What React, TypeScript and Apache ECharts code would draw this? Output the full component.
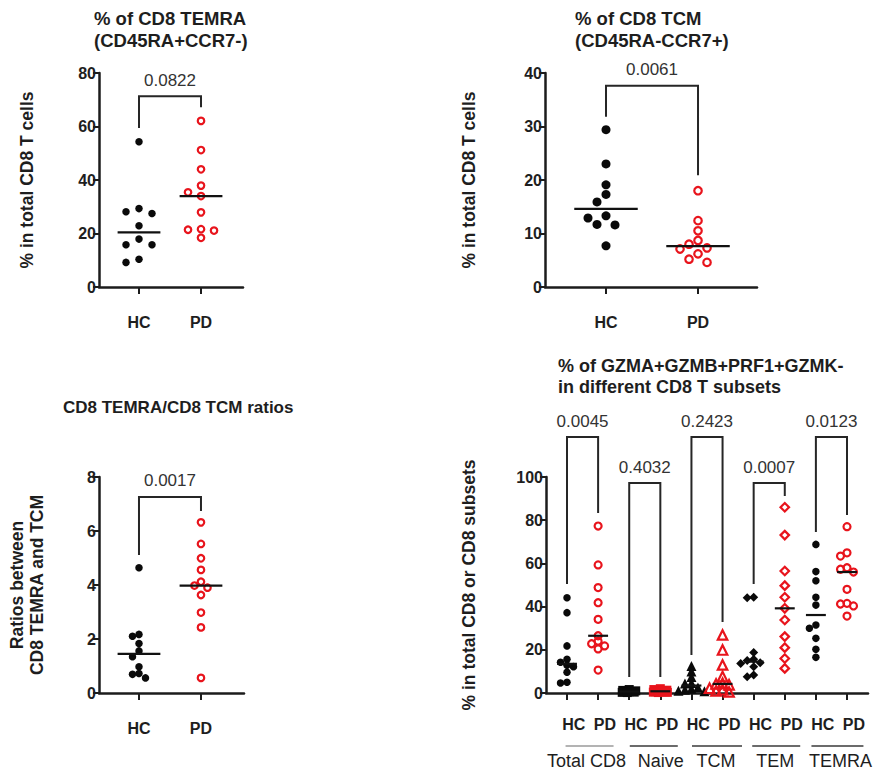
import React, { useEffect, useRef } from 'react';
import * as echarts from 'echarts';

// ---------------- data ----------------
const groupLabels = ['HC', 'PD'];

// Panel 1: % of CD8 TEMRA
const temraHC = [54.3, 29.3, 28.1, 27.5, 22.9, 17.9, 15.8, 15.8, 10.4, 9.2];
const temraPD = [62.1, 51.2, 44.0, 37.9, 35.4, 34.0, 27.9, 21.6, 21.4, 21.1, 18.4];
const temraP = ['0.0822'];

// Panel 2: % of CD8 TCM
const tcmHC = [29.4, 23.0, 19.1, 17.3, 15.9, 13.3, 12.9, 11.7, 11.6, 7.7];
const tcmPD = [18.0, 12.4, 10.5, 8.7, 8.0, 7.3, 7.1, 6.2, 5.2, 4.6];
const tcmP = ['0.0061'];

// Panel 3: TEMRA / TCM ratios
const ratioHC = [4.64, 2.17, 2.1, 1.83, 1.56, 1.34, 0.97, 0.72, 0.69, 0.56];
const ratioPD = [6.32, 5.52, 4.99, 4.56, 4.12, 3.98, 3.9, 3.63, 2.98, 2.43, 0.56];
const ratioP = ['0.0017'];

// Panel 4: GZMA+GZMB+PRF1+GZMK- in subsets
const subsetNames = ['Total CD8', 'Naive', 'TCM', 'TEM', 'TEMRA'];
const totalHC = [44.1, 37.2, 21.8, 15.6, 14.2, 12.8, 12.2, 9.6, 5.0, 4.6];
const totalPD = [77.3, 59.3, 48.8, 41.8, 34.1, 26.5, 24.0, 22.8, 21.8, 20.4, 10.6];
const naiveHC = [1.6, 1.2, 1.0, 0.9, 0.7, 0.6, 0.5, 0.4, 0.3, 0.2];
const naivePD = [2.0, 1.6, 1.3, 1.1, 0.9, 0.8, 0.6, 0.5, 0.4, 0.3, 0.2];
const tcmSubHC = [12.5, 9.9, 7.4, 4.6, 4.4, 2.5, 2.0, 1.5, 1.0, 0.8];
const tcmSubPD = [26.9, 19.9, 13.0, 7.6, 4.5, 4.2, 3.8, 2.2, 1.5, 1.0, 0.5];
const temHC = [44.3, 44.1, 18.7, 15.6, 15.0, 14.0, 13.7, 12.2, 8.3, 7.5];
const temPD = [86.0, 73.1, 56.5, 49.7, 44.3, 39.2, 33.8, 26.1, 21.0, 16.0, 11.4];
const temraSubHC = [68.8, 56.2, 52.0, 44.3, 40.7, 31.5, 30.0, 25.3, 20.2, 16.5];
const temraSubPD = [77.0, 64.9, 63.4, 58.0, 57.3, 56.0, 48.0, 41.5, 41.2, 40.3, 35.6];
const subsetP = ['0.0045', '0.4032', '0.2423', '0.0007', '0.0123'];

// bracket levels (annotation heights, data units): [top, HC leg end, PD leg end]
const bracketLevels1 = [[71.3, 59.4, 67.2]];
const bracketLevels2 = [[37.6, 31.8, 20.9]];
const bracketLevels3 = [[7.26, 5.11, 6.74]];
const bracketLevels4 = [
  [118.5, 50.5, 83.3],
  [97.2, 7.4, 7.4],
  [118.5, 17.6, 32.9],
  [97.2, 50.5, 91.2],
  [118.5, 74.5, 82.4],
];

// ---------------- layout / style ----------------
const FONT = 'Arial, "Liberation Sans", Helvetica, sans-serif';
const RED = '#e8141c';
const BLACK = '#0a0a0a';
const AXIS = '#1c1c1c';
const TXT = '#1e1e1e';

const grids = [
  { left: 99, top: 73, width: 144, height: 214 },
  { left: 545, top: 73, width: 212, height: 214 },
  { left: 99, top: 477, width: 145, height: 216 },
  { left: 546, top: 477, width: 322, height: 216 },
];
const xRanges = [
  [0.355, 2.677],
  [0.337, 2.641],
  [0.355, 2.694],
  [0.325, 10.675],
];
const yMax = [80, 40, 8, 100];
const yStep = [20, 10, 2, 20];
const yNames = [
  '% in total CD8 T cells',
  '% in total CD8 T cells',
  'Ratios between\nCD8 TEMRA and TCM',
  '% in total CD8 or CD8 subsets',
];
const nameGaps = [62, 66, 52, 67];
// subset caption placement under panel 4 (px offsets from pair centre)
const groupLabelShift = [4, 16, 9, 6, 9];
const groupLineShift = [7, 9, 10, 7, 6];
const groupLineHalf = [24, 24, 25, 24, 26];
const groupLineColors = ['#9a9a9a', '#3a3a3a', '#3a3a3a', '#3a3a3a', '#3a3a3a'];

function median(a: number[]) {
  const s = [...a].sort((x, y) => x - y);
  const n = s.length;
  return n % 2 ? s[(n - 1) / 2] : (s[n / 2 - 1] + s[n / 2]) / 2;
}

// simple beeswarm in pixel space
function swarm(values: number[], pxPerY: number, step: number, minDist: number, maxOff: number) {
  const order = values.map((_, i) => i).sort((a, b) => values[b] - values[a]);
  const placed: { x: number; y: number }[] = [];
  const offs = new Array(values.length).fill(0);
  for (const i of order) {
    const y = values[i] * pxPerY;
    const cands = [0];
    for (let k = 1; k * step <= maxOff + 0.01; k++) cands.push(-k * step, k * step);
    let chosen: number | null = null;
    for (const c of cands) {
      if (placed.every((p) => Math.hypot(p.x - c, p.y - y) >= minDist)) {
        chosen = c;
        break;
      }
    }
    if (chosen === null) {
      let best = 0;
      let bestD = -1;
      for (let c = -maxOff; c <= maxOff + 0.01; c += 1) {
        const d = Math.min(...placed.map((p) => Math.hypot(p.x - c, p.y - y)));
        if (d > bestD + 1e-6) {
          bestD = d;
          best = c;
        }
      }
      chosen = best;
    }
    placed.push({ x: chosen, y });
    offs[i] = chosen;
  }
  return offs;
}

function buildOption() {
  const pxX = grids.map((g, i) => g.width / (xRanges[i][1] - xRanges[i][0]));
  const pxY = grids.map((g, i) => g.height / yMax[i]);

  const series: any[] = [];

  const addGroup = (
    panel: number,
    center: number,
    values: number[],
    symbol: string,
    size: number,
    filled: boolean,
    color: string,
    sw: [number, number, number]
  ) => {
    const offs = swarm(values, pxY[panel], sw[0], sw[1], sw[2]);
    series.push({
      type: 'scatter',
      xAxisIndex: panel,
      yAxisIndex: panel,
      silent: true,
      z: 3,
      symbol,
      symbolSize: size,
      itemStyle: filled
        ? { color, borderWidth: 0, opacity: 1 }
        : { color: 'rgba(0,0,0,0)', borderColor: color, borderWidth: 2.2, opacity: 1 },
      data: values.map((v, i) => [center + offs[i] / pxX[panel], v]),
    });
  };

  const medianSeries = (panel: number, rows: number[][], hw: number) => ({
    type: 'custom',
    xAxisIndex: panel,
    yAxisIndex: panel,
    coordinateSystem: 'cartesian2d',
    silent: true,
    clip: false,
    z: 5,
    data: rows,
    renderItem: (params: any, api: any) => {
      const x = api.value(0);
      const m = api.value(1);
      const a = api.coord([x - hw, m]);
      const b = api.coord([x + hw, m]);
      return {
        type: 'line',
        shape: { x1: a[0], y1: a[1], x2: b[0], y2: b[1] },
        style: { stroke: '#111', lineWidth: 2.2 },
      };
    },
  });

  const bracketSeries = (panel: number, levels: number[][], texts: string[]) => ({
    type: 'custom',
    xAxisIndex: panel,
    yAxisIndex: panel,
    coordinateSystem: 'cartesian2d',
    silent: true,
    clip: false,
    z: 4,
    data: levels.map((l, i) => [2 * i + 1, 2 * i + 2, l[0], l[1], l[2]]),
    renderItem: (params: any, api: any) => {
      const x1 = api.value(0);
      const x2 = api.value(1);
      const top = api.value(2);
      const a = api.coord([x1, api.value(3)]);
      const b = api.coord([x1, top]);
      const c = api.coord([x2, top]);
      const d = api.coord([x2, api.value(4)]);
      return {
        type: 'group',
        children: [
          {
            type: 'polyline',
            shape: { points: [a, b, c, d] },
            style: { stroke: '#262626', lineWidth: 2, fill: 'none' },
          },
          {
            type: 'text',
            x: (b[0] + c[0]) / 2,
            y: b[1] - 16,
            style: {
              text: texts[params.dataIndex],
              fill: '#333',
              font: `17px ${FONT}`,
              align: 'center',
              verticalAlign: 'middle',
            },
          },
        ],
      };
    },
  });

  // panels 1-3
  const simple = [
    { hc: temraHC, pd: temraPD, br: bracketLevels1, p: temraP, sw: [13, 7, 26], s: [7.5, 6.5] },
    { hc: tcmHC, pd: tcmPD, br: bracketLevels2, p: tcmP, sw: [9, 9.5, 30], s: [9, 7.5] },
    { hc: ratioHC, pd: ratioPD, br: bracketLevels3, p: ratioP, sw: [6.5, 6.5, 20], s: [7.5, 6.5] },
  ];
  simple.forEach((pn, k) => {
    addGroup(k, 1, pn.hc, 'circle', pn.s[0], true, BLACK, pn.sw as any);
    addGroup(k, 2, pn.pd, 'circle', pn.s[1], false, RED, pn.sw as any);
    series.push(medianSeries(k, [[1, median(pn.hc)], [2, median(pn.pd)]], 0.345));
    series.push(bracketSeries(k, pn.br, pn.p));
  });

  // panel 4
  const subsets = [
    { hc: totalHC, pd: totalPD, sym: 'circle', size: 7.5, pdFilled: false, maxOff: 13 },
    { hc: naiveHC, pd: naivePD, sym: 'rect', size: 9, pdFilled: true, maxOff: 7 },
    { hc: tcmSubHC, pd: tcmSubPD, sym: 'triangle', size: 10, pdFilled: false, maxOff: 13 },
    { hc: temHC, pd: temPD, sym: 'diamond', size: 9, pdFilled: false, maxOff: 13 },
    { hc: temraSubHC, pd: temraSubPD, sym: 'circle', size: 7.5, pdFilled: false, maxOff: 13 },
  ];
  const medRows: number[][] = [];
  subsets.forEach((s, i) => {
    const cHC = 2 * i + 1;
    const cPD = 2 * i + 2;
    addGroup(3, cHC, s.hc, s.sym, s.size, true, BLACK, [6.5, 5, s.maxOff]);
    addGroup(3, cPD, s.pd, s.sym, s.pdFilled ? s.size : s.size - 0.5, s.pdFilled, RED, [6.5, 5, s.maxOff]);
    medRows.push([cHC, median(s.hc)], [cPD, median(s.pd)]);
  });
  series.push(medianSeries(3, medRows, 0.32));
  series.push(bracketSeries(3, bracketLevels4, subsetP));
  series.push({
    type: 'custom',
    xAxisIndex: 3,
    yAxisIndex: 3,
    coordinateSystem: 'cartesian2d',
    silent: true,
    clip: false,
    z: 4,
    data: subsetNames.map((_, i) => [2 * i + 1.5, 0]),
    renderItem: (params: any, api: any) => {
      const k = params.dataIndex;
      const p = api.coord([api.value(0), 0]);
      const lc = p[0] + groupLineShift[k];
      return {
        type: 'group',
        children: [
          {
            type: 'line',
            shape: { x1: lc - groupLineHalf[k], y1: p[1] + 53, x2: lc + groupLineHalf[k], y2: p[1] + 53 },
            style: { stroke: groupLineColors[k], lineWidth: 1.6 },
          },
          {
            type: 'text',
            x: p[0] + groupLabelShift[k],
            y: p[1] + 68,
            style: {
              text: subsetNames[k],
              fill: TXT,
              font: `18px ${FONT}`,
              align: 'center',
              verticalAlign: 'middle',
            },
          },
        ],
      };
    },
  });

  const xAxis = grids.map((_, i) => {
    const n = i === 3 ? 10 : 2;
    const ticks = Array.from({ length: n }, (_, k) => k + 1);
    const labelShift = i === 3 ? 0.22 : 0;
    return {
      type: 'value',
      gridIndex: i,
      min: xRanges[i][0],
      max: xRanges[i][1],
      splitLine: { show: false },
      axisLine: { show: true, onZero: false, lineStyle: { color: AXIS, width: 2.5 } },
      axisTick: { show: true, customValues: ticks, length: 7, lineStyle: { color: AXIS, width: 2 } },
      axisLabel: {
        show: true,
        customValues: ticks.map((t) => t + labelShift),
        formatter: (v: number) => groupLabels[(Math.round(v) - 1) % 2],
        margin: i === 3 ? 23 : 27,
        fontFamily: FONT,
        fontWeight: 'bold',
        fontSize: 16,
        color: TXT,
      },
    };
  });

  const yAxis = grids.map((_, i) => ({
    type: 'value',
    gridIndex: i,
    min: 0,
    max: yMax[i],
    interval: yStep[i],
    splitLine: { show: false },
    axisLine: { show: true, lineStyle: { color: AXIS, width: 2.5 } },
    axisTick: { show: true, length: 6, lineStyle: { color: AXIS, width: 2 } },
    axisLabel: {
      fontFamily: FONT,
      fontWeight: 'bold',
      fontSize: 16,
      color: TXT,
      margin: 3,
    },
    name: yNames[i],
    nameLocation: 'middle',
    nameGap: nameGaps[i],
    nameTextStyle: {
      fontFamily: FONT,
      fontWeight: 'bold',
      fontSize: 17.5,
      color: TXT,
      lineHeight: 20,
    },
  }));

  const titleText = (text: string, x: number, y: number, size = 18, lh = 22) => ({
    type: 'text',
    x,
    y,
    silent: true,
    style: {
      text,
      fill: TXT,
      font: `bold ${size}px ${FONT}`,
      lineHeight: lh,
      align: 'left',
      verticalAlign: 'middle',
    },
  });

  return {
    animation: false,
    backgroundColor: '#fff',
    grid: grids.map((g) => ({ ...g, containLabel: false })),
    xAxis,
    yAxis,
    series,
    graphic: [
      titleText('% of CD8 TEMRA\n(CD45RA+CCR7-)', 94, 29, 18.5),
      titleText('% of CD8 TCM\n(CD45RA-CCR7+)', 575, 29, 18.5),
      titleText('CD8 TEMRA/CD8 TCM ratios', 63, 407, 17),
      titleText('% of GZMA+GZMB+PRF1+GZMK-\nin different CD8 T subsets', 558, 376, 18, 21),
    ],
  };
}

export default function App() {
  const ref = useRef<HTMLDivElement>(null);
  useEffect(() => {
    const chart = echarts.init(ref.current!, null, { renderer: 'svg' });
    chart.setOption(buildOption() as any);
    return () => chart.dispose();
  }, []);
  return (
    <div
      ref={ref}
      style={{ position: 'absolute', left: 0, top: 0, width: 876, height: 774, background: '#fff' }}
    />
  );
}
